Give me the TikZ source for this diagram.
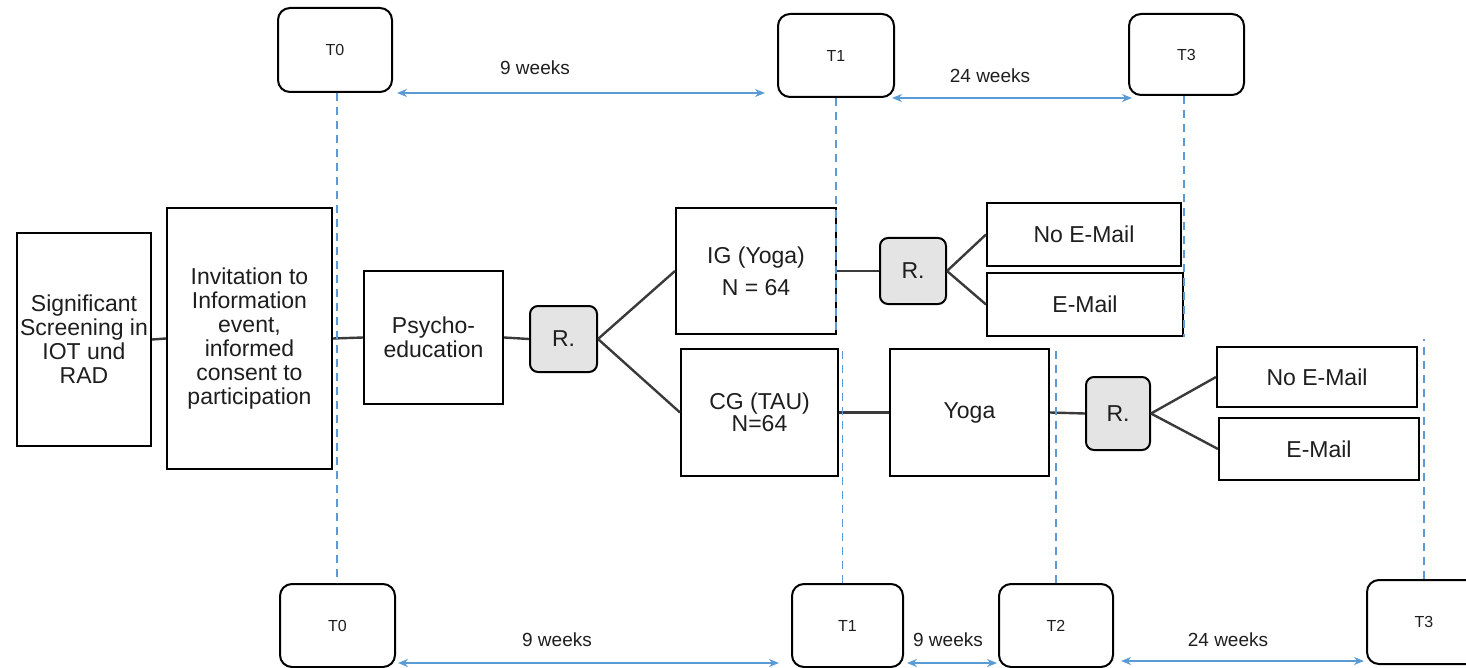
\documentclass[tikz,border=0pt]{standalone}
\usepackage{fontspec}
\setmainfont{Liberation Sans}
\usetikzlibrary{calc,arrows.meta}
\definecolor{tblue}{HTML}{5B9BD5}
\definecolor{lgray}{HTML}{3A3A3A}
\definecolor{rfill}{HTML}{E4E4E4}
\definecolor{txt}{HTML}{1E1E1E}
\begin{document}
\begin{tikzpicture}[x=0.5pt,y=-0.5pt,
  box/.style={draw=black, line width=1pt, fill=white, align=center, inner sep=1pt,
    font=\fontsize{11.5}{12}\selectfont, text=txt},
  rbox/.style={box, rounded corners=4pt, fill=rfill},
  tbox/.style={draw=black, line width=1pt, rounded corners=6pt, fill=white,
    font=\fontsize{8}{9}\selectfont, text=txt},
  conn/.style={draw=lgray, line width=1.2pt},
  tline/.style={draw=tblue, line width=0.8pt, dash pattern=on 4pt off 3pt},
  tarrow/.style={draw=tblue, line width=0.9pt,
    {Stealth[length=5pt,width=4pt]}-{Stealth[length=5pt,width=4pt]}},
  wk/.style={font=\fontsize{9.5}{10}\selectfont, text=txt, inner sep=1pt}]
\useasboundingbox (0,0) rectangle (1466,668);

% time boxes
\node[tbox, minimum width=57pt, minimum height=42pt] (tT0) at (335,50) {T0};
\node[tbox, minimum width=58pt, minimum height=41.5pt] (tT1) at (836,55.5) {T1};
\node[tbox, minimum width=57.5pt, minimum height=40.5pt] (tT3) at (1186.5,54.5) {T3};
\node[tbox, minimum width=57.5pt, minimum height=41.5pt] (bT0) at (337.5,625.5) {T0};
\node[tbox, minimum width=55.5pt, minimum height=41.5pt] (bT1) at (847.5,625.5) {T1};
\node[tbox, minimum width=57pt, minimum height=41.5pt] (bT2) at (1056,625.5) {T2};
\node[tbox, minimum width=57pt, minimum height=42pt] (bT3) at (1424,622) {T3};

% main boxes
\node[box, minimum width=67pt, minimum height=106.5pt] (sig) at (84,339.5) {Significant\\Screening in\\IOT und\\RAD};
\node[box, minimum width=82.5pt, minimum height=130.5pt] (inv) at (249.5,338.5) {Invitation to\\Information\\event,\\informed\\consent to\\participation};
\node[box, minimum width=69.5pt, minimum height=66.5pt] (psy) at (433.5,337.5) {Psycho-\\education};
\node[rbox, minimum width=33.5pt, minimum height=33pt] (r1) at (563.5,339) {R.};
\node[box, minimum width=80pt, minimum height=63pt] (ig) at (756,271) {IG (Yoga)\\[4pt]N = 64};
\node[box, minimum width=78.5pt, minimum height=63.5pt, font=\fontsize{11.5}{11}\selectfont] (cg) at (759.5,412.5) {CG (TAU)\\N=64};
\node[rbox, minimum width=33pt, minimum height=33pt] (r2) at (913,271) {R.};
\node[box, minimum width=79.5pt, minimum height=63.5pt] (yoga) at (969.5,412.5) {Yoga};
\node[box, minimum width=97pt, minimum height=31.5pt] (ne1) at (1084,234.5) {No E-Mail};
\node[box, minimum width=98pt, minimum height=31.5pt] (em1) at (1085,304.5) {E-Mail};
\node[rbox, minimum width=32pt, minimum height=36.5pt] (r3) at (1118,413.5) {R.};
\node[box, minimum width=100pt, minimum height=30pt] (ne2) at (1317,377) {No E-Mail};
\node[box, minimum width=100pt, minimum height=31pt] (em2) at (1319,449) {E-Mail};

% connectors
\draw[conn] (sig.east) -- (inv.west);
\draw[conn] (inv.east) -- (psy.west);
\draw[conn] (psy.east) -- (r1.west);
\draw[conn] (r1.east) -- (ig.west);
\draw[conn] (r1.east) -- (cg.west);
\draw[conn] (ig.east) -- (r2.west);
\draw[conn] (r2.east) -- (ne1.west);
\draw[conn] (r2.east) -- (em1.west);
\draw[conn] (cg.east) -- (yoga.west);
\draw[conn] (yoga.east) -- (r3.west);
\draw[conn] (r3.east) -- (ne2.west);
\draw[conn] (r3.east) -- (em2.west);

% dashed time lines
\coordinate (b0top) at ($(bT0.north)+(-0.5,0)$);
\draw[tline] (tT0.south -| b0top) -- (b0top);
\draw[tline] (tT1.south) -- (tT1.south |- ig.south);
\coordinate (b1top) at ($(bT1.north)+(-5,0)$);
\draw[tline] (b1top) -- (b1top |- cg.north);
\draw[tline] (em1.south east |- tT3.south) -- (em1.south east);
\draw[tline] (bT2.north) -- (bT2.north |- yoga.north);
\draw[tline] (bT3.north) -- ($(bT3.north |- ne2.north)+(0,-7)$);

% interval arrows
\draw[tarrow] ($(tT0.south east)+(4,0)$) -- ($(tT1.west |- tT0.south)+(-12,0)$);
\draw[tarrow] ($(tT1.south east)+(-3,0)$) -- ($(tT3.west |- tT1.south)+(4,0)$);
\draw[tarrow] ($(bT0.south east)+(2,-5)$) -- ($(bT1.south west)+(-12,-5)$);
\draw[tarrow] ($(bT1.south east)+(3,-5)$) -- ($(bT2.south west)+(-1,-5)$);
\draw[tarrow] ($(bT2.south east)+(7,-7)$) -- ($(bT3.west |- bT2.south)+(-2,-7)$);

% interval labels
\node[wk] (w1) at (535,68) {9 weeks};
\node[wk] (w2) at (990,76) {24 weeks};
\node[wk] (w3) at (557,640) {9 weeks};
\node[wk] (w4) at (948,640) {9 weeks};
\node[wk] (w5) at (1228,640) {24 weeks};
\end{tikzpicture}
\end{document}
